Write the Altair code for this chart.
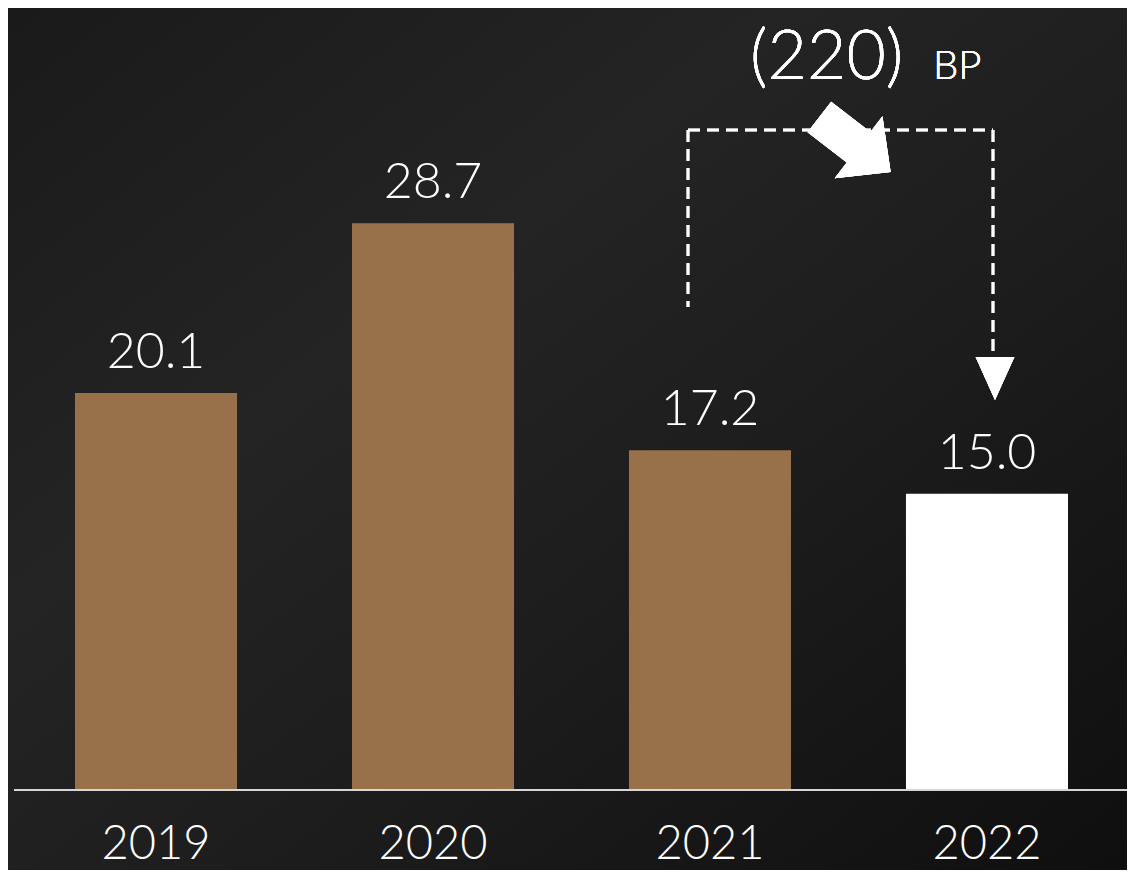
import altair as alt
import pandas as pd

years = ["2019", "2020", "2021", "2022"]
values = [20.1, 28.7, 17.2, 15.0]
labels = ["20.1", "28.7", "17.2", "15.0"]
bar_colors = ["#98714a", "#98714a", "#98714a", "#ffffff"]
change_text = "(220)"
change_unit = "BP"

df = pd.DataFrame({"year": years, "value": values, "label": labels, "color": bar_colors})

W, H = 1119, 862
FONT = "Lato"

xscale = alt.Scale(domain=years, range=[67, 1060], paddingInner=0.415, paddingOuter=0)
yscale = alt.Scale(domain=[-4.051, 39.595], nice=False, zero=False)
X = alt.X("year:N", scale=xscale, axis=None)

base = alt.Chart(df)

bg = base.mark_rect(
    fill=alt.LinearGradient(
        gradient="linear", x1=0, y1=0, x2=1, y2=1,
        stops=[alt.GradientStop(color="#1a1a1a", offset=0),
               alt.GradientStop(color="#242424", offset=0.35),
               alt.GradientStop(color="#1d1d1d", offset=0.6),
               alt.GradientStop(color="#0f0f0f", offset=1)]),
).encode(x=alt.value(0), x2=alt.value(W), y=alt.value(0), y2=alt.value(H))

bars = base.mark_bar().encode(
    x=X,
    y=alt.Y("value:Q", scale=yscale, axis=None),
    y2=alt.datum(0),
    color=alt.Color("color:N", scale=None),
)

vlabels = base.mark_text(
    font=FONT, fontSize=50, fontWeight=300, color="white", baseline="alphabetic", dy=-25
).encode(x=X, y=alt.Y("value:Q", scale=yscale, axis=None), text="label:N")

ylabels = base.mark_text(
    font=FONT, fontSize=47, fontWeight=300, color="white", baseline="alphabetic"
).encode(x=X, y=alt.datum(-3.5), text="year:N")

baseline = base.mark_rule(color="#d6d6d6", strokeWidth=2).encode(
    x=alt.value(6), x2=alt.value(W), y=alt.datum(0))

dash = dict(color="white", strokeWidth=2.5, strokeDash=[12, 7])
left_v = base.mark_rule(**dash).encode(x=alt.value(680), y=alt.value(122), y2=alt.value(299))
top_h = base.mark_rule(**dash).encode(x=alt.value(680), x2=alt.value(985), y=alt.value(122))
right_v = base.mark_rule(**dash).encode(x=alt.value(985), y=alt.value(122), y2=alt.value(352))

tri = base.mark_point(
    shape="M-0.9,-1 L0.9,-1 L0,1 Z", filled=True, color="white", size=1849, opacity=1, strokeWidth=0
).encode(x=alt.value(987), y=alt.value(370.5))

big_arrow = base.mark_point(
    shape="M-1,-0.43 L0.1,-0.43 L0.1,-0.87 L1,0 L0.1,0.87 L0.1,0.43 L-1,0.43 Z",
    filled=True, color="white", size=8100, angle=37.6, opacity=1, strokeWidth=0
).encode(x=alt.value(847), y=alt.value(136.5))

t1 = base.mark_text(
    text=change_text, font=FONT, fontSize=68, fontWeight=300, color="white",
    align="left", baseline="alphabetic"
).encode(x=alt.value(742), y=alt.value(71))
t2 = base.mark_text(
    text=change_unit, font=FONT, fontSize=40, fontWeight=300, color="white",
    align="left", baseline="alphabetic"
).encode(x=alt.value(925), y=alt.value(71))

chart = alt.layer(
    bg, bars, vlabels, ylabels, baseline, left_v, top_h, right_v, tri, big_arrow, t1, t2
).properties(
    width=W, height=H, autosize=alt.AutoSizeParams(type="none"), padding=0,
    background="#1c1c1c",
).configure_view(strokeWidth=0)

chart.save("out.html", embed_options={"renderer": "svg", "actions": False})
